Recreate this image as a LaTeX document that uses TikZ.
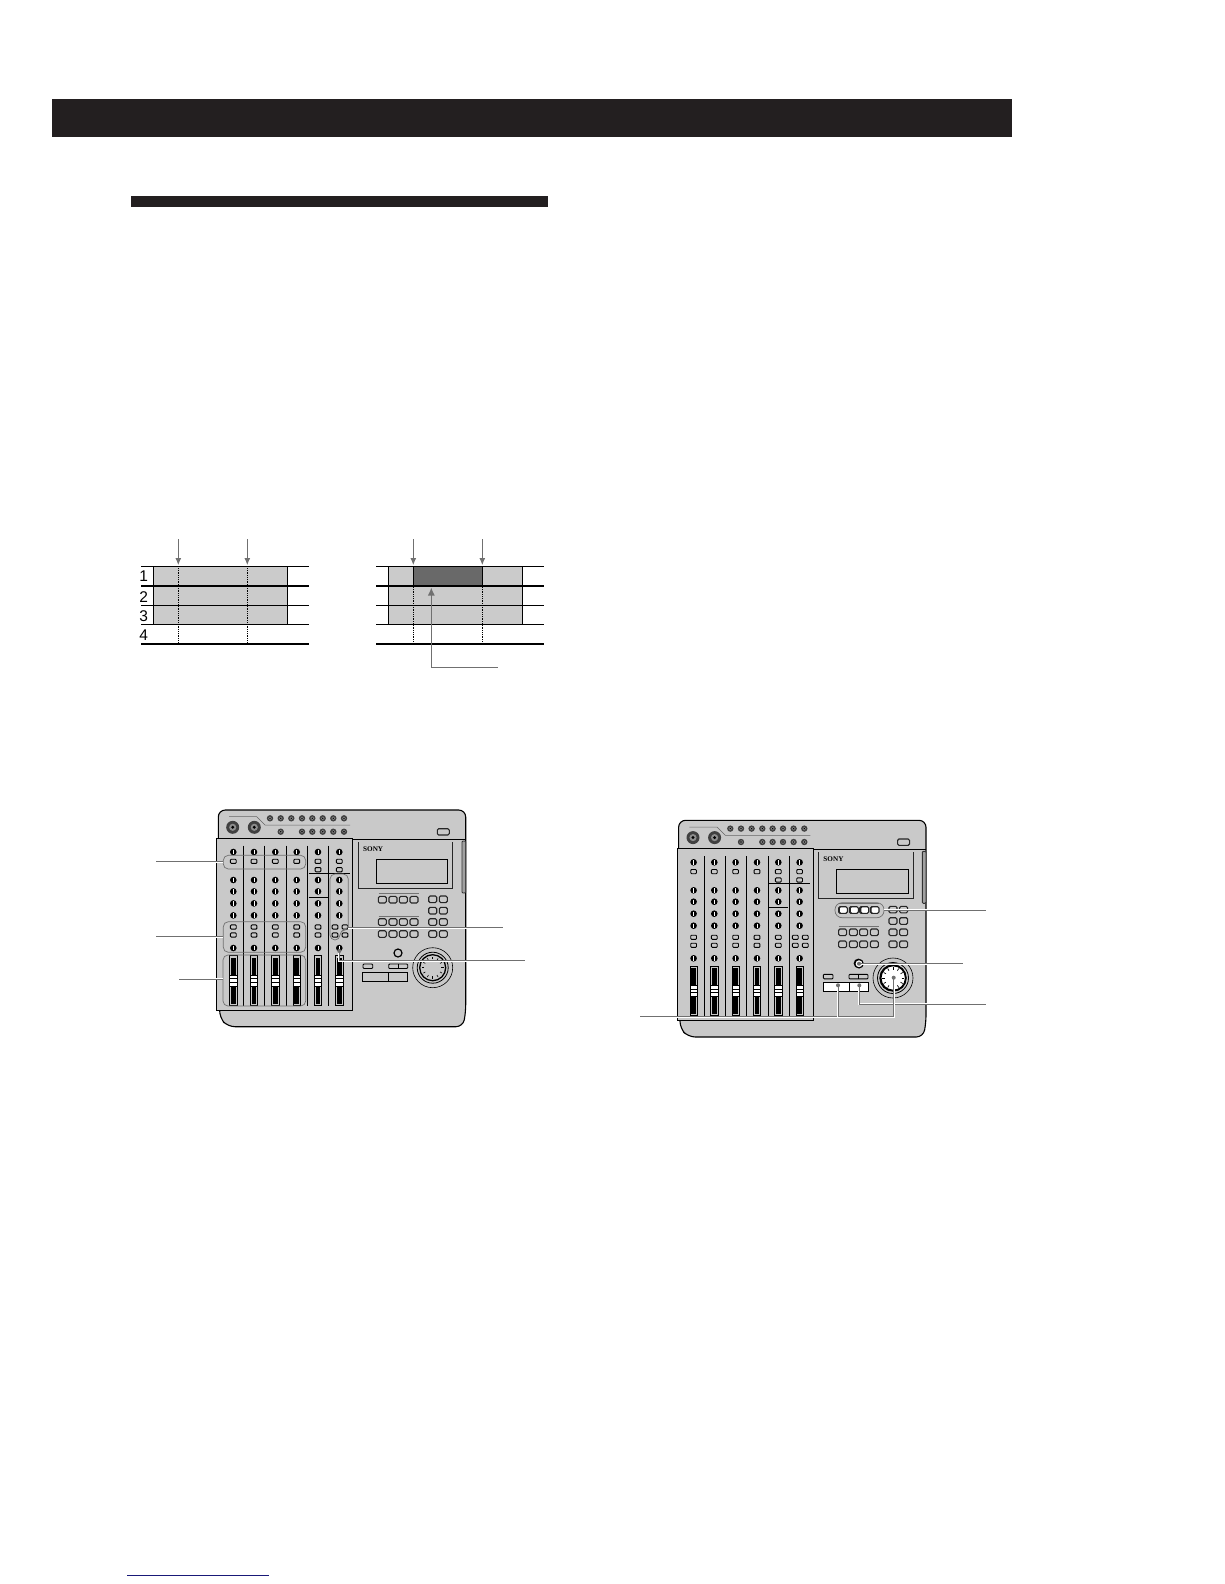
\documentclass[tikz,border=0pt]{standalone}
\usepackage{fontspec}
\setmainfont{Liberation Sans}
\newfontfamily\badgefont{Liberation Serif}
\usetikzlibrary{arrows.meta, calc}
\definecolor{barblack}{RGB}{35,31,32}
\definecolor{panelgray}{RGB}{201,201,201}
\definecolor{trackgray}{RGB}{203,203,203}
\definecolor{trackdark}{RGB}{105,105,105}
\definecolor{leadergray}{RGB}{112,112,112}
\definecolor{linkblue}{RGB}{25,25,120}

\newcommand{\chanknob}[2]{%
  \fill[black] (#1,#2) circle (3.3);
  \draw[white,line width=.6pt] (#1,#2-2.2) -- (#1,#2+2.2);}
\newcommand{\chanbtn}[2]{%
  \draw[chankey] (#1-2.9,#2-2.1) rectangle (#1+2.9,#2+2.1);}
\newcommand{\padbtn}[3][panelgray]{%
  \draw[padkey,fill=#1] (#2-4,#3-3.3) rectangle (#2+4,#3+3.3);}
\newcommand{\jackknob}[3]{%
  \fill[black!75] (#1,#2) circle (#3);
  \fill[panelgray!70!black] (#1,#2) circle (#3*.55);
  \fill[black] (#1,#2) circle (#3*.25);}
\newcommand{\leaderdot}[2]{%
  \fill[leadergray] (#1,#2) circle (2);}

\tikzset{
  chankey/.style={draw=black,line width=.9pt,fill=panelgray,rounded corners=.9pt},
  padkey/.style={draw=black!85,line width=1.1pt,rounded corners=1.4pt},
  thickrule/.style={line width=1.5pt,black},
  thinrule/.style={line width=.9pt,black},
  timemark/.style={densely dotted,line width=.8pt,black},
  downmark/.style={draw=leadergray,line width=.8pt},
  leader/.style={draw=leadergray,line width=1pt,preaction={draw=white,line width=2.2pt}},
  groupline/.style={draw=leadergray,line width=.7pt,rounded corners=5pt},
  mixer/.pic={
    % body and lip
    \draw[fill=panelgray,line width=1.1pt,rounded corners=7pt]
      (218.3,838) -- (218.3,810) -- (465.7,810) -- (465.7,1012)
      -- (463,1026.7) -- (228,1026.7) -- (219.7,1018) -- (219.7,1005);
    \draw[line width=.9pt] (352,839.3) -- (465.7,839.3);
    \draw[fill=panelgray,line width=.8pt] (216.7,838.3) rectangle (352.7,1010);
    % jacks on the top strip
    \jackknob{232.7}{827.3}{6.5}
    \jackknob{254.3}{827.3}{6.5}
    \draw[black!60,line width=.5pt] (229,816.7) -- (256.7,816.7) -- (265,825) -- (350,825);
    \foreach \x in {270,280.7,291.3,302,312.3,322.7,333.3,344}
      \jackknob{\x}{818.3}{3.2};
    \foreach \x in {280.7,302,312.3,322.7,333.3,344}
      \jackknob{\x}{831.7}{3.2};
    % channel strips
    \foreach \x in {243.7,264.7,286.3,307.7,328.7}
      \draw[line width=.7pt] (\x,845.7) -- (\x,1005.7);
    \draw[line width=.8pt] (308.7,873) -- (350,873);
    \draw[line width=.8pt] (308.7,897.4) -- (328,897.4);
    \foreach \x in {233.3,254,275.3,296.7,318,339.3}{
      \foreach \y in {852,880,891.4,903.4,915.4,948}
        \chanknob{\x}{\y};
      \chanbtn{\x}{861.3}
      \draw[fill=panelgray,line width=.7pt] (\x-3.7,955.7) rectangle (\x+3.7,1005.4);
      \fill[black] (\x-2.3,957.5) rectangle (\x+2.3,1003.6);
      \fill[white] (\x-3.6,975) rectangle (\x+3.6,985.8);
      \draw[black,line width=.6pt] (\x-3.6,975) rectangle (\x+3.6,985.8);
      \draw[black,line width=.7pt] (\x-3.6,978.6) -- (\x+3.6,978.6) (\x-3.6,982.2) -- (\x+3.6,982.2);
    }
    \foreach \x in {233.3,254,275.3,296.7,318}{
      \chanbtn{\x}{927}
      \chanbtn{\x}{935}
    }
    \foreach \x in {318,339.3}
      \chanbtn{\x}{869.7};
    \foreach \x in {335,345}{
      \chanbtn{\x}{927}
      \chanbtn{\x}{935}
    }
    % display
    \draw[line width=.9pt,black!85] (358.3,842) -- (358.3,888.5) -- (452.7,888.5) -- (452.7,842);
    \draw[line width=.8pt] (376,859) rectangle (447.7,883.3);
    \node[font=\badgefont\bfseries,scale=.72,inner sep=0pt,anchor=west] (badge) at (363,848.7) {SONY};
    \draw[black!80,fill=panelgray!80!black,line width=.9pt,rounded corners=1pt] (462,841) rectangle (465.7,893);
    \draw[padkey,fill=panelgray] (437.3,828.7) rectangle (449.3,835);
    % keypads
    \draw[black!55,line width=.9pt] (378.5,893.3) -- (418.5,893.3);
    \draw[black!55,line width=.9pt] (378.5,916) -- (418.5,916);
    \foreach \x in {382.3,393,403.3,414}{
      \padbtn{\x}{899.7}
      \padbtn{\x}{922}
      \padbtn{\x}{934}
    }
    \foreach \x in {432.7,443.3}
      \foreach \y in {899.3,910.7,922,934}
        \padbtn{\x}{\y};
    \draw[line width=1.2pt,fill=panelgray] (398,953) circle (4);
    % transport block
    \draw[line width=.9pt] (362.7,972) rectangle (407.7,981);
    \draw[line width=.9pt] (388.7,972) -- (388.7,981);
    \draw[chankey] (363,964) rectangle (372.7,968.5);
    \draw[chankey] (388.7,964) rectangle (407.7,968.5);
    \draw[line width=.6pt] (398,964) -- (398,968.5);
    % dial
    \draw[line width=.6pt] (432.7,967.7) circle (20);
    \draw[line width=.8pt] (432.7,967.7) circle (15.5);
    \draw[line width=1.3pt] (432.7,967.7) circle (13);
    \foreach \a in {0,30,...,330}
      \draw[line width=.6pt] ($(432.7,967.7)+(\a:8.5)$) -- ($(432.7,967.7)+(\a:10.8)$);
  }
}

\begin{document}
\begin{tikzpicture}[x=1pt,y=-1pt]
  \useasboundingbox (0,0) rectangle (1224,1584);

  % page bars
  \fill[barblack] (52.3,99) rectangle (1012,136.7);
  \fill[barblack] (131,196) rectangle (548,207);
  \draw[linkblue,line width=.9pt] (127,1575.3) -- (269,1575.3);

  % left track chart
  \fill[trackgray] (153.7,566.7) rectangle (287.3,624.3);
  \foreach \y in {566.7,586,644}
    \draw[thickrule] (141,\y) -- (309,\y);
  \foreach \y in {605.3,624.3}
    \draw[thinrule] (141,\y) -- (309,\y);
  \foreach \x in {153.7,287.3}
    \draw[thinrule] (\x,566.7) -- (\x,624.3);
  \foreach \x in {178.3,247.3}{
    \draw[timemark] (\x,568) -- (\x,643);
    \draw[downmark,-{Latex[length=7pt,width=6pt]}] (\x,539) -- (\x,565);
  }
  \foreach \n/\y in {1/576,2/597,3/616,4/635}
    \node[font=\fontsize{15.5}{15.5}\selectfont,inner sep=0pt] (trk\n) at (143.7,\y) {\n};

  % right track chart
  \fill[trackgray] (388.3,566.7) rectangle (522.3,624.3);
  \fill[trackdark] (413.3,566.7) rectangle (482.3,586);
  \foreach \y in {566.7,586,644}
    \draw[thickrule] (376,\y) -- (544,\y);
  \foreach \y in {605.3,624.3}
    \draw[thinrule] (376,\y) -- (544,\y);
  \foreach \x in {388.3,522.3}
    \draw[thinrule] (\x,566.7) -- (\x,624.3);
  \foreach \x in {413.3,482.3}{
    \draw[thinrule] (\x,566.7) -- (\x,586);
    \draw[timemark] (\x,587) -- (\x,643);
    \draw[downmark,-{Latex[length=7pt,width=6pt]}] (\x,539) -- (\x,565);
  }
  \coordinate (editend) at (497.7,667.7);
  \coordinate (edittip) at (431.3,587.5);
  \draw[leadergray,line width=1.2pt,-{Latex[length=8pt,width=7pt]}] (editend) -| (edittip);

  % first mixer
  \pic at (0,0) {mixer};
  \draw[groupline] (223.3,855.3) rectangle (305.7,869);
  \draw[groupline] (223.3,921.7) rectangle (305.7,952.3);
  \draw[groupline] (223,955) rectangle (305.7,1006);
  \draw[groupline] (330,874) -- (348.3,874) -- (348.3,930) -- (340,930) -- (340,940) -- (330,940) -- cycle;
  \coordinate (grpa) at (223.3,861.7);
  \coordinate (grpb) at (223.3,936.7);
  \coordinate (grpc) at (223,979.3);
  \coordinate (grpd) at (348.3,927.7);
  \coordinate (grpe) at (339.3,951);
  \coordinate (enda) at (156,861.7);
  \coordinate (endb) at (156,936.7);
  \coordinate (endc) at (179.3,979.3);
  \coordinate (endd) at (503.3,927.7);
  \coordinate (ende) at (525,960.7);
  \draw[leader] (enda) -- (grpa);
  \draw[leader] (endb) -- (grpb);
  \draw[leader] (endc) -- (grpc);
  \draw[leader] (grpd) -- (endd);
  \draw[leader] (grpe) |- (ende);
  \leaderdot{339.3}{951}

  % second mixer
  \pic at (460.3,10.3) {mixer};
  \foreach \x in {843.3,854.3,864.7,875}
    \padbtn[white]{\x}{910};
  \draw[groupline,rounded corners=7pt] (835,902.7) rectangle (884,917.7);
  \draw[line width=1.2pt,fill=white] (859,963.7) circle (4.2);
  \draw[line width=.9pt,fill=white] (823,982.3) rectangle (868,991.3);
  \draw[line width=.9pt] (849,982.3) -- (849,991.3);
  \draw[line width=1.6pt,fill=white] (893.2,978) circle (12.5);
  \foreach \a in {0,30,...,330}
    \draw[line width=.7pt] ($(893.2,978)+(\a:8.5)$) -- ($(893.2,978)+(\a:11)$);
  \coordinate (keyrow) at (884,910);
  \coordinate (keyend) at (986,910);
  \coordinate (recknob) at (859,963.7);
  \coordinate (recend) at (963.3,963.7);
  \coordinate (smalltab) at (859.3,985.3);
  \coordinate (tabend) at (986,1004.3);
  \coordinate (widetab) at (838,985.3);
  \coordinate (dialhub) at (893.7,977.7);
  \coordinate (barend) at (640,1016.7);
  \draw[leader] (keyrow) -- (keyend);
  \draw[leader] (recknob) -- (recend);
  \draw[leader] (smalltab) |- (tabend);
  \draw[leader] (barend) -| (dialhub);
  \draw[leader] (widetab) -- (widetab |- barend);
  \leaderdot{859}{963.7}
  \leaderdot{859.3}{985.3}
  \leaderdot{838}{985.3}
  \leaderdot{893.7}{977.7}
\end{tikzpicture}
\end{document}
